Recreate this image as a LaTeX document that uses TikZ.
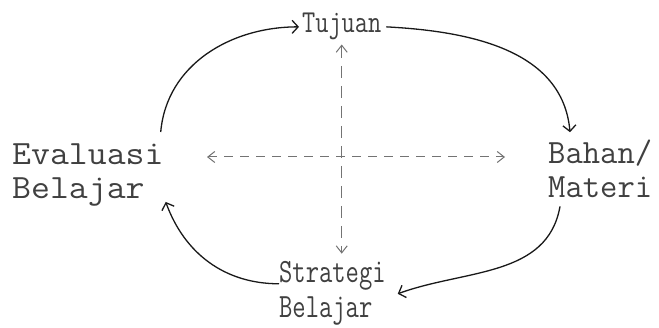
\documentclass[tikz,border=0pt]{standalone}
\usepackage{fontspec}
\usetikzlibrary{arrows.meta,calc}
\begin{document}
\begin{tikzpicture}[x=1pt,y=1pt,
  lbl/.style={inner sep=0pt, align=left, text=black!75, anchor=base west, transform shape},
  flow/.style={line width=1.3pt, black!90, -{Straight Barb[length=6pt,width=13pt]}},
  dline/.style={black!55, line width=1pt, dash pattern=on 9pt off 7pt,
    {Straight Barb[length=7pt,width=11pt]}-{Straight Barb[length=7pt,width=11pt]}}]
\useasboundingbox (0,0) rectangle (659,-328);
\node[lbl, xscale=0.8, font=\ttfamily\fontsize{32}{32}\selectfont] (tuj) at (302,-33) {Tujuan};
\node[lbl, xscale=1.08, font=\ttfamily\fontsize{34}{34}\selectfont] (eval) at (12,-199) {Evaluasi\\Belajar};
\node[lbl, xscale=0.99, font=\ttfamily\fontsize{34}{34}\selectfont] (bahan) at (548,-198) {Bahan/\\Materi};
\node[lbl, xscale=0.76, font=\ttfamily\fontsize{34}{35}\selectfont] (strat) at (279,-318) {Strategi\\Belajar};
\draw[flow] ([xshift=-3pt,yshift=12pt]eval.north east) to[out=85,in=180] ([xshift=-3pt]tuj.west);
\draw[flow] ([xshift=5pt]tuj.east) to[out=-3,in=95] ([xshift=22pt,yshift=8pt]bahan.north west);
\draw[flow] ([xshift=12pt,yshift=-8pt]bahan.south west) to[out=-100,in=20] ([xshift=12pt]strat.east);
\draw[flow] ([yshift=10pt]strat.west) to[out=180,in=-70] ([xshift=2pt,yshift=5pt]eval.south east);
\coordinate (hl) at (207,-157);
\coordinate (hr) at (505,-157);
\draw[dline] (hl) -- (hr);
\draw[dline, dash pattern=on 12pt off 8pt, shorten <=4pt, shorten >=8pt] (tuj.south) -- (tuj.south |- strat.north);
\end{tikzpicture}
\end{document}
